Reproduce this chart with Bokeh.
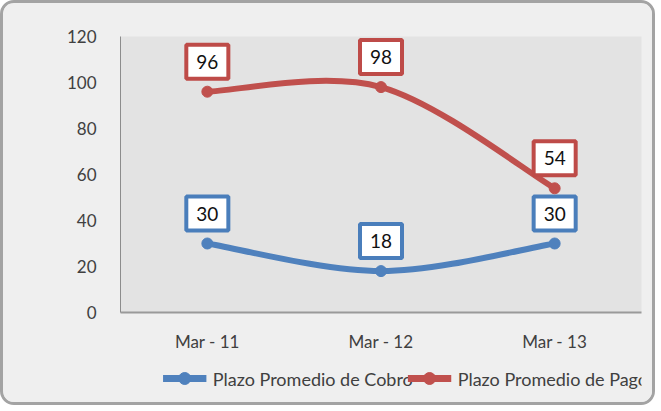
from bokeh.plotting import figure
from bokeh.layouts import column
from bokeh.models import Range1d, FixedTicker, ColumnDataSource
from bokeh.core.properties import value
from bokeh.embed import file_html
from bokeh.resources import INLINE

categories = ["Mar - 11", "Mar - 12", "Mar - 13"]
cobro = [30, 18, 30]
pago = [96, 98, 54]
y_ticks = [0, 20, 40, 60, 80, 100, 120]

series_names = ["Plazo Promedio de Cobro", "Plazo Promedio de Pago"]
series_colors = ["#4F81BD", "#C0504D"]
label_borders = ["#4A7EBB", "#BE4B48"]

FONT = "Lato"
OUTER = "#efefef"

p = figure(width=649, height=355, output_backend="svg", toolbar_location=None,
           x_range=Range1d(-0.5, 2.5), y_range=Range1d(0, 120),
           min_border_left=117, min_border_right=11, min_border_top=33,
           min_border_bottom=46)
p.background_fill_color = "#e3e3e3"
p.border_fill_color = OUTER
p.outline_line_color = None
p.xgrid.grid_line_color = None
p.ygrid.grid_line_color = None

# axes
p.yaxis.ticker = FixedTicker(ticks=y_ticks)
p.xaxis.ticker = FixedTicker(ticks=list(range(len(categories))))
p.xaxis.major_label_overrides = {i: c for i, c in enumerate(categories)}
for ax in (p.xaxis, p.yaxis):
    ax.major_tick_line_color = None
    ax.minor_tick_line_color = None
    ax.major_label_text_font = FONT
    ax.major_label_text_font_size = "17px"
    ax.major_label_text_color = "#404040"
p.yaxis.axis_line_color = "#8c8c8c"
p.yaxis.major_label_standoff = 18
p.xaxis.axis_line_color = "#9a9a9a"
p.xaxis.axis_line_width = 2
p.xaxis.major_label_standoff = 12


def smooth_segments(ys):
    xs = list(range(len(ys)))
    n = len(ys)
    seg = dict(x0=[], y0=[], x1=[], y1=[], cx0=[], cy0=[], cx1=[], cy1=[])
    for i in range(n - 1):
        im1 = max(i - 1, 0)
        ip2 = min(i + 2, n - 1)
        seg["x0"].append(xs[i]); seg["y0"].append(ys[i])
        seg["x1"].append(xs[i + 1]); seg["y1"].append(ys[i + 1])
        seg["cx0"].append(xs[i] + (xs[i + 1] - xs[im1]) / 6)
        seg["cy0"].append(ys[i] + (ys[i + 1] - ys[im1]) / 6)
        seg["cx1"].append(xs[i + 1] - (xs[ip2] - xs[i]) / 6)
        seg["cy1"].append(ys[i + 1] - (ys[ip2] - ys[i]) / 6)
    return seg


for ys, col, bcol in zip([cobro, pago], series_colors, label_borders):
    seg = ColumnDataSource(smooth_segments(ys))
    p.bezier(x0="x0", y0="y0", x1="x1", y1="y1", cx0="cx0", cy0="cy0",
             cx1="cx1", cy1="cy1", source=seg, line_color=col, line_width=6)
    src = ColumnDataSource(dict(x=list(range(len(ys))), y=ys, t=[str(v) for v in ys]))
    p.scatter("x", "y", source=src, marker="circle", size=11,
              fill_color=col, line_color=col)
    p.text(x="x", y="y", text="t", source=src, y_offset=-30,
           text_align="center", text_baseline="middle",
           text_font=value(FONT), text_font_size="19px", text_color="#111111",
           text_line_height=0.9,
           background_fill_color="white", border_line_color=bcol,
           border_line_width=4, padding=10)

# legend strip below the chart (pixel-like coordinates for the key layout)
lg = figure(width=649, height=44, output_backend="svg", toolbar_location=None,
            x_range=Range1d(0, 649), y_range=Range1d(0, 44),
            x_axis_type=None, y_axis_type=None, min_border=0)
lg.background_fill_color = OUTER
lg.border_fill_color = OUTER
lg.outline_line_color = None
lg.xgrid.grid_line_color = None
lg.ygrid.grid_line_color = None

key_left = [53, 358]      # layout: left edge of each legend key
key_len = 54
key_y = 24
text_gap = 8

for name, col, kx in zip(series_names, series_colors, key_left):
    lg.segment(x0=[kx], y0=[key_y], x1=[kx + key_len], y1=[key_y],
               line_color=col, line_width=7)
    lg.scatter(x=[kx + key_len / 2], y=[key_y], marker="circle", size=12,
               fill_color=col, line_color=col)
    lg.text(x=[kx + key_len + text_gap], y=[key_y], text=[name],
            text_align="left", text_baseline="middle",
            text_font=value(FONT), text_font_size="18px", text_color="#404040")

layout = column(p, lg, spacing=0)
layout.styles = {"border-radius": "14px", "border": "3px solid #a3a3a3",
                 "overflow": "hidden", "background-color": OUTER}

open("out.html", "w").write(file_html(layout, INLINE))
